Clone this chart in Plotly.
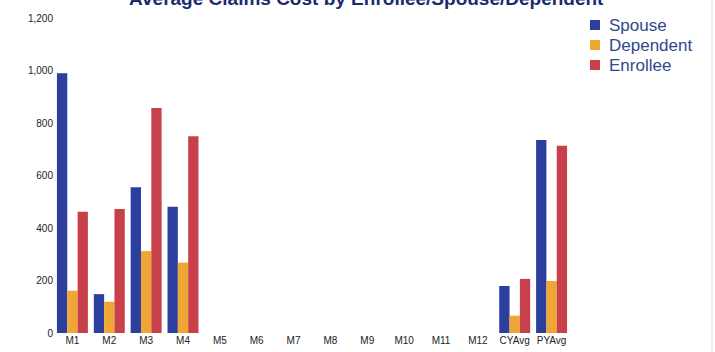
import plotly.graph_objects as go

categories = ["M1", "M2", "M3", "M4", "M5", "M6", "M7", "M8", "M9", "M10",
              "M11", "M12", "CYAvg", "PYAvg"]
spouse = [990, 148, 555, 481, 0, 0, 0, 0, 0, 0, 0, 0, 179, 735]
dependent = [161, 119, 312, 268, 0, 0, 0, 0, 0, 0, 0, 0, 66, 198]
enrollee = [462, 472, 857, 750, 0, 0, 0, 0, 0, 0, 0, 0, 206, 713]
y_ticks = [0, 200, 400, 600, 800, 1000, 1200]
y_tick_text = ["0", "200", "400", "600", "800", "1,000", "1,200"]

series = [
    ("Spouse", spouse, "#2d3f9e"),
    ("Dependent", dependent, "#efa634"),
    ("Enrollee", enrollee, "#c8404a"),
]

W, H = 715, 352
ML, MR, MT, MB = 54, 145, 18, 19
PW, PH = W - ML - MR, H - MT - MB


def px_x(x):
    return (x - ML) / PW


def px_y(y):
    return (H - MB - y) / PH


fig = go.Figure()
for name, vals, color in series:
    fig.add_trace(go.Bar(
        x=categories, y=vals, name=name,
        marker=dict(color=color, line=dict(width=0)),
        showlegend=False,
    ))

# legend drawn as coloured squares with labels to the right
annotations = []
shapes = []
for i, (name, vals, color) in enumerate(series):
    cy = 25 + i * 20
    shapes.append(dict(
        type="rect", xref="paper", yref="paper",
        x0=px_x(590), x1=px_x(600), y0=px_y(cy + 5), y1=px_y(cy - 5),
        fillcolor=color, line=dict(width=0),
    ))
    annotations.append(dict(
        text=name, xref="paper", yref="paper",
        x=px_x(607), y=px_y(cy), xanchor="left", yanchor="middle",
        showarrow=False, font=dict(size=17, color="#2e4a8a"),
    ))

annotations.append(dict(
    text="<b>Average Claims Cost by Enrollee/Spouse/Dependent</b>",
    xref="paper", yref="paper", x=px_x(366), y=px_y(-2),
    xanchor="center", yanchor="middle", showarrow=False,
    font=dict(size=19, color="#1c2a6e"),
))

shapes.append(dict(
    type="line", xref="paper", yref="paper",
    x0=px_x(712), x1=px_x(712), y0=px_y(352), y1=px_y(0),
    line=dict(color="#e8eef0", width=2),
))

fig.update_layout(
    width=W, height=H,
    margin=dict(l=ML, r=MR, t=MT, b=MB, autoexpand=False),
    paper_bgcolor="white", plot_bgcolor="white",
    barmode="group", bargap=0.16, bargroupgap=0,
    font=dict(family="Liberation Sans, Arial, sans-serif", color="#222222"),
    showlegend=False,
    xaxis=dict(
        showgrid=False, showline=False, zeroline=False, automargin=False,
        tickfont=dict(size=10, color="#222222"), ticks="",
    ),
    yaxis=dict(
        range=[0, 1200], showgrid=False, showline=False, zeroline=False,
        automargin=False,
        tickvals=y_ticks, ticktext=y_tick_text,
        tickfont=dict(size=10, color="#222222"), ticks="",
    ),
    annotations=annotations,
    shapes=shapes,
)

fig.write_html("out.html")
